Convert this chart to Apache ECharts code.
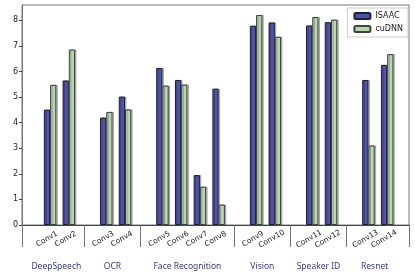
<!DOCTYPE html>
<html><head><meta charset="utf-8">
<script src="https://cdn.jsdelivr.net/npm/echarts@6/dist/echarts.min.js"></script>
<style>html,body{margin:0;padding:0;background:#fff}#c{width:415px;height:275px}</style>
</head><body><div id="c"></div>
<script>
const convNames = ['Conv1','Conv2','Conv3','Conv4','Conv5','Conv6','Conv7','Conv8','Conv9','Conv10','Conv11','Conv12','Conv13','Conv14'];
const convSlots = [0,1,3,4,6,7,8,9,11,12,14,15,17,18];
const isaac = [4.51,5.65,4.2,5.02,6.14,5.67,1.95,5.33,7.79,7.92,7.8,7.93,5.67,6.26];
const cudnn = [5.48,6.86,4.42,4.52,5.45,5.49,1.5,0.8,8.21,7.36,8.13,8.03,3.11,6.68];
const groupNames = ['DeepSpeech','OCR','Face Recognition','Vision','Speaker ID','Resnet'];
const groupCenters = [0.5,3.5,7.5,11.5,14.5,17.5];
const separators = [-1.333,2,5,10,13,16,19.333];
const yTicks = [0,1,2,3,4,5,6,7,8];

const X_MIN = -1.333, X_MAX = 19.333, BAR_FRAC = 1/3;
const gridLeft = 22, gridRight = 6;
const plotW = 415 - gridLeft - gridRight;
const barPx = plotW / (X_MAX - X_MIN) * BAR_FRAC;
const FONT = 'DejaVu Sans';

const chart = echarts.init(document.getElementById('c'), null, {renderer:'canvas'});
const convLabel = v => { const i = convSlots.indexOf(Math.round(v)); return i >= 0 ? convNames[i] : ''; };
const groupLabel = v => { const i = groupCenters.indexOf(v); return i >= 0 ? groupNames[i] : ''; };

chart.setOption({
  animation: false,
  grid: {left: gridLeft, right: gridRight, top: 5, bottom: 50, show: true, borderColor: '#777', borderWidth: 1,
         containLabel: false, outerBoundsMode: 'none'},
  legend: {
    data: ['ISAAC','cuDNN'], orient: 'vertical', top: 8, right: 7,
    itemWidth: 16, itemHeight: 6, itemGap: 5, padding: [4,5,4,6],
    borderColor: '#ccc', borderWidth: 1, backgroundColor: '#fff',
    textStyle: {fontFamily: FONT, fontSize: 8, color: '#222'}
  },
  xAxis: [
    {type: 'value', min: X_MIN, max: X_MAX, position: 'bottom',
     axisLine: {show: true, onZero: false, lineStyle: {color: '#444'}},
     splitLine: {show: false},
     axisTick: {show: true, customValues: separators, length: 22, inside: false, lineStyle: {color: '#777'}},
     axisLabel: {show: true, customValues: convSlots, formatter: convLabel, rotate: 30, align: 'center', verticalAlign: 'middle', margin: 14,
       fontFamily: FONT, fontSize: 7.5, color: '#222'}},
    {type: 'value', min: X_MIN, max: X_MAX, position: 'bottom',
     axisLine: {show: false, onZero: false}, splitLine: {show: false}, axisTick: {show: false},
     axisLabel: {show: true, customValues: groupCenters, formatter: groupLabel, margin: 37,
       fontFamily: 'Noto Sans', fontSize: 8.5, color: '#3b3a7e'}}
  ],
  yAxis: {
    type: 'value', min: 0, max: 8.6, interval: 1,
    name: 'TFLOPS', nameLocation: 'middle', nameGap: 15, nameRotate: 90,
    nameTextStyle: {fontFamily: FONT, fontSize: 8, color: '#222'},
    axisLine: {show: true, onZero: false, lineStyle: {color: '#777'}},
    axisTick: {show: true, length: 3, customValues: yTicks, lineStyle: {color: '#444'}},
    splitLine: {show: false},
    axisLabel: {fontFamily: FONT, fontSize: 8, color: '#222', margin: 4, customValues: yTicks}
  },
  series: [
    {name: 'ISAAC', type: 'bar', xAxisIndex: 0, barWidth: barPx, barGap: '-100%',
     itemStyle: {color: '#5054a8', borderColor: '#1e1e3a', borderWidth: 1, shadowColor: 'rgba(0,0,0,0.25)', shadowOffsetX: 1.5, shadowOffsetY: 0},
     data: convSlots.map((s,i) => [s, isaac[i]])},
    {name: 'cuDNN', type: 'bar', xAxisIndex: 0, barWidth: barPx, barGap: '-100%',
     itemStyle: {color: '#b8d4b2', borderColor: '#3a463a', borderWidth: 1, shadowColor: 'rgba(0,0,0,0.25)', shadowOffsetX: 1.5, shadowOffsetY: 0},
     data: convSlots.map((s,i) => [s + BAR_FRAC, cudnn[i]])}
  ]
});
</script></body></html>
